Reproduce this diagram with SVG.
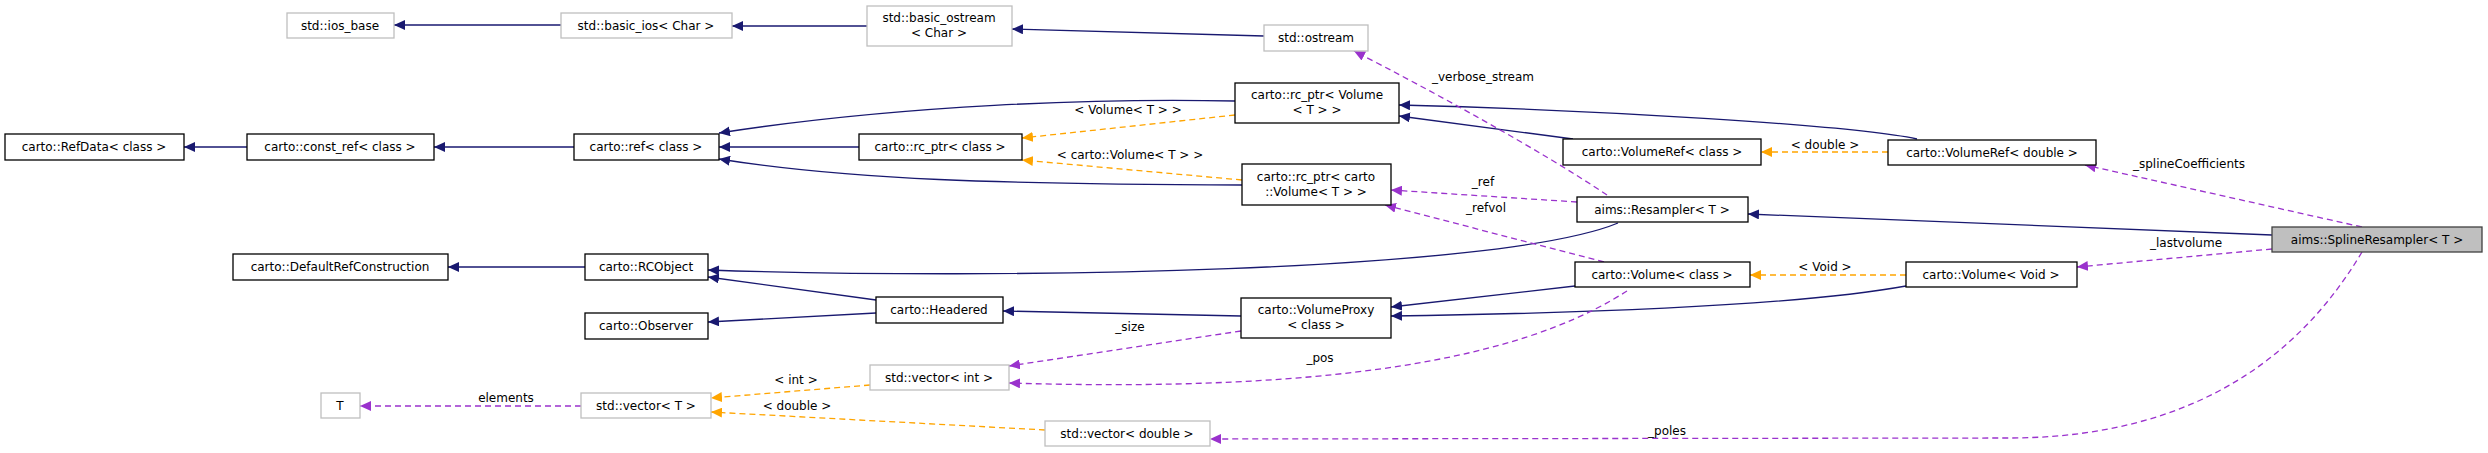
<svg xmlns="http://www.w3.org/2000/svg" width="2488" height="453" viewBox="0 0 2488 453">
<style>
text{font-family:"DejaVu Sans",sans-serif;font-size:12px;fill:#000;text-anchor:middle}
.n rect{fill:#fff;stroke:#000;stroke-width:1.3}
.g rect{fill:#fff;stroke:#bfbfbf;stroke-width:1.3}
.s rect{fill:#bfbfbf;stroke:#404040;stroke-width:1.3}
.inh{fill:none;stroke:#191970;stroke-width:1.3;marker-end:url(#an)}
.tpl{fill:none;stroke:#ffa500;stroke-width:1.3;stroke-dasharray:6,4;marker-end:url(#ao)}
.use{fill:none;stroke:#9a32cd;stroke-width:1.3;stroke-dasharray:6,4;marker-end:url(#ap)}
</style>
<defs>
<marker id="an" markerUnits="userSpaceOnUse" markerWidth="12" markerHeight="10" refX="11" refY="5" orient="auto"><path d="M0,0L11,5L0,10z" fill="#191970"/></marker>
<marker id="ao" markerUnits="userSpaceOnUse" markerWidth="12" markerHeight="10" refX="11" refY="5" orient="auto"><path d="M0,0L11,5L0,10z" fill="#ffa500"/></marker>
<marker id="ap" markerUnits="userSpaceOnUse" markerWidth="12" markerHeight="10" refX="11" refY="5" orient="auto"><path d="M0,0L11,5L0,10z" fill="#9a32cd"/></marker>
</defs>
<g id="connectors">
<path class="inh" d="M561,25L394,25"/>
<path class="inh" d="M867,26L732,26"/>
<path class="inh" d="M1264,36L1012,29"/>
<path class="inh" d="M247,147L184,147"/>
<path class="inh" d="M574,147L434,147"/>
<path class="inh" d="M1235,101C1100,98 900,105 719,133"/>
<path class="inh" d="M859,147L719,147"/>
<path class="inh" d="M1242,185C1000,184 850,180 719,159"/>
<path class="inh" d="M585,267L448,267"/>
<path class="inh" d="M1618,223C1500,272 1000,280 708,270"/>
<path class="inh" d="M876,300L708,277"/>
<path class="inh" d="M876,313L708,322"/>
<path class="inh" d="M1241,316L1003,311"/>
<path class="inh" d="M1575,286L1391,307"/>
<path class="inh" d="M1906,286C1800,305 1600,313 1391,316"/>
<path class="inh" d="M1573,139L1399,116"/>
<path class="inh" d="M1917,139C1850,125 1600,110 1399,105"/>
<path class="inh" d="M2272,235L1748,214"/>
<path class="tpl" d="M1235,115L1022,138"/>
<path class="tpl" d="M1242,180L1022,160"/>
<path class="tpl" d="M1888,152L1761,152"/>
<path class="tpl" d="M1906,275L1750,275"/>
<path class="tpl" d="M870,385L711,398"/>
<path class="tpl" d="M1045,430L711,412"/>
<path class="use" d="M581,406L360,406"/>
<path class="use" d="M1607,195C1540,150 1430,90 1354,51"/>
<path class="use" d="M1577,202L1391,190"/>
<path class="use" d="M1604,262L1385,205"/>
<path class="use" d="M1241,331L1009,366"/>
<path class="use" d="M1627,291C1550,340 1400,395 1009,383"/>
<path class="use" d="M2362,227L2085,165"/>
<path class="use" d="M2272,249L2077,267"/>
<path class="use" d="M2362,252C2280,390 2150,438 2008,438L1210,439"/>
</g>
<g id="labels">
<text x="1128" y="114">&lt; Volume&lt; T &gt; &gt;</text>
<text x="1130" y="159">&lt; carto::Volume&lt; T &gt; &gt;</text>
<text x="1825" y="149">&lt; double &gt;</text>
<text x="1825" y="271">&lt; Void &gt;</text>
<text x="796" y="384">&lt; int &gt;</text>
<text x="797" y="410">&lt; double &gt;</text>
<text x="506" y="402">elements</text>
<text x="1483" y="81">_verbose_stream</text>
<text x="1483" y="186">_ref</text>
<text x="1486" y="212">_refvol</text>
<text x="1130" y="331">_size</text>
<text x="1320" y="362">_pos</text>
<text x="2189" y="168">_splineCoefficients</text>
<text x="2186" y="247">_lastvolume</text>
<text x="1667" y="435">_poles</text>
</g>
<g id="ios_base" class="g"><rect x="287" y="13" width="107" height="25"/><text x="340" y="30">std::ios_base</text></g>
<g id="basic_ios" class="g"><rect x="561" y="13" width="171" height="25"/><text x="646" y="30">std::basic_ios&lt; Char &gt;</text></g>
<g id="basic_ostream" class="g"><rect x="867" y="6" width="145" height="40"/><text x="939" y="22">std::basic_ostream</text><text x="939" y="37">&lt; Char &gt;</text></g>
<g id="ostream" class="g"><rect x="1264" y="25" width="104" height="26"/><text x="1316" y="42">std::ostream</text></g>
<g id="RefData" class="n"><rect x="5" y="134" width="179" height="26"/><text x="94" y="151">carto::RefData&lt; class &gt;</text></g>
<g id="const_ref" class="n"><rect x="247" y="134" width="187" height="26"/><text x="340" y="151">carto::const_ref&lt; class &gt;</text></g>
<g id="ref" class="n"><rect x="574" y="134" width="145" height="26"/><text x="646" y="151">carto::ref&lt; class &gt;</text></g>
<g id="rc_ptr_volume" class="n"><rect x="1235" y="83" width="164" height="40"/><text x="1317" y="99">carto::rc_ptr&lt; Volume</text><text x="1317" y="114">&lt; T &gt; &gt;</text></g>
<g id="rc_ptr_class" class="n"><rect x="859" y="134" width="163" height="26"/><text x="940" y="151">carto::rc_ptr&lt; class &gt;</text></g>
<g id="rc_ptr_carto_volume" class="n"><rect x="1242" y="164" width="149" height="41"/><text x="1316" y="181">carto::rc_ptr&lt; carto</text><text x="1316" y="196">::Volume&lt; T &gt; &gt;</text></g>
<g id="VolumeRef_class" class="n"><rect x="1563" y="139" width="198" height="26"/><text x="1662" y="156">carto::VolumeRef&lt; class &gt;</text></g>
<g id="VolumeRef_double" class="n"><rect x="1888" y="140" width="208" height="25"/><text x="1992" y="157">carto::VolumeRef&lt; double &gt;</text></g>
<g id="Resampler" class="n"><rect x="1577" y="197" width="171" height="25"/><text x="1662" y="214">aims::Resampler&lt; T &gt;</text></g>
<g id="SplineResampler" class="s"><rect x="2272" y="227" width="210" height="25"/><text x="2377" y="244">aims::SplineResampler&lt; T &gt;</text></g>
<g id="DefaultRefConstruction" class="n"><rect x="233" y="254" width="215" height="26"/><text x="340" y="271">carto::DefaultRefConstruction</text></g>
<g id="RCObject" class="n"><rect x="585" y="254" width="123" height="26"/><text x="646" y="271">carto::RCObject</text></g>
<g id="Volume_class" class="n"><rect x="1575" y="262" width="175" height="25"/><text x="1662" y="279">carto::Volume&lt; class &gt;</text></g>
<g id="Volume_Void" class="n"><rect x="1906" y="262" width="171" height="25"/><text x="1991" y="279">carto::Volume&lt; Void &gt;</text></g>
<g id="Headered" class="n"><rect x="876" y="297" width="127" height="26"/><text x="939" y="314">carto::Headered</text></g>
<g id="VolumeProxy" class="n"><rect x="1241" y="298" width="150" height="40"/><text x="1316" y="314">carto::VolumeProxy</text><text x="1316" y="329">&lt; class &gt;</text></g>
<g id="Observer" class="n"><rect x="585" y="313" width="123" height="26"/><text x="646" y="330">carto::Observer</text></g>
<g id="vector_int" class="g"><rect x="870" y="365" width="139" height="25"/><text x="939" y="382">std::vector&lt; int &gt;</text></g>
<g id="T" class="g"><rect x="321" y="393" width="39" height="25"/><text x="340" y="410">T</text></g>
<g id="vector_T" class="g"><rect x="581" y="393" width="130" height="25"/><text x="646" y="410">std::vector&lt; T &gt;</text></g>
<g id="vector_double" class="g"><rect x="1045" y="421" width="165" height="25"/><text x="1127" y="438">std::vector&lt; double &gt;</text></g>
</svg>
